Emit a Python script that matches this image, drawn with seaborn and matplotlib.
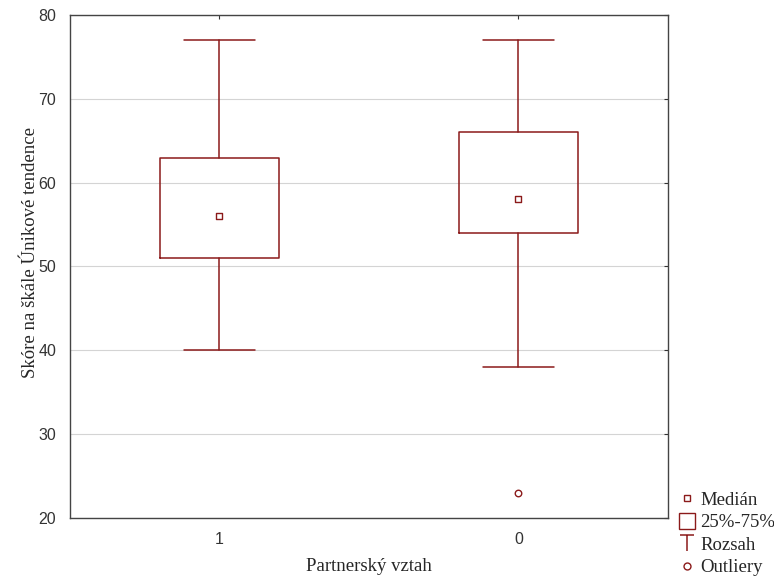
import matplotlib
matplotlib.use("Agg")
import matplotlib.pyplot as plt
from matplotlib.lines import Line2D
from matplotlib.path import Path
import pandas as pd
import seaborn as sns

# Box statistics
groups = ["1", "0"]
medians = [56, 58]
q1 = [51, 54]
q3 = [63, 66]
whisk_lo = [40, 38]
whisk_hi = [77, 77]
outlier_group = ["0"]
outlier_values = [23]

RED = "#8b1a1a"

sns.set_style("white")
plt.rcParams["font.family"] = ["Liberation Sans", "DejaVu Sans"]

fig = plt.figure(figsize=(7.74, 5.79), dpi=100)
ax = fig.add_axes([0.0904, 0.1054, 0.7726, 0.8687])

stats = []
for i, g in enumerate(groups):
    stats.append({"label": g, "med": medians[i], "q1": q1[i], "q3": q3[i],
                  "whislo": whisk_lo[i], "whishi": whisk_hi[i], "fliers": []})

ax.bxp(stats, positions=range(len(groups)), widths=0.4, showfliers=False,
       boxprops=dict(color=RED, linewidth=1.1),
       whiskerprops=dict(color=RED, linewidth=1.1),
       capprops=dict(color=RED, linewidth=1.1),
       medianprops=dict(linestyle="none"),
       capwidths=0.24)

med_df = pd.DataFrame({"grp": groups, "val": medians})
sns.scatterplot(data=med_df, x="grp", y="val", marker="s", s=22,
                facecolor="white", edgecolor=RED, linewidth=1.0, ax=ax, zorder=5)
out_df = pd.DataFrame({"grp": outlier_group, "val": outlier_values})
out_df["pos"] = out_df["grp"].map({g: i for i, g in enumerate(groups)})
sns.scatterplot(data=out_df, x="pos", y="val", marker="o", s=22,
                facecolor="white", edgecolor=RED, linewidth=1.0, ax=ax, zorder=5)

ax.set_xlim(-0.5, 1.5)
ax.set_ylim(20, 80)
ax.set_xticks(range(len(groups)))
ax.set_xticklabels(groups)
ax.set_yticks(range(20, 81, 10))
ax.yaxis.grid(True, color="#d4d4d4", linewidth=0.8)
ax.set_axisbelow(True)
ax.tick_params(direction="in", length=3, labelsize=11.5, colors="#333333",
               top=True, right=True, pad=10)
for sp in ax.spines.values():
    sp.set_color("#444444")
    sp.set_linewidth(1.0)

ax.set_xlabel("Partnerský vztah", family="Liberation Serif", fontsize=13.5,
              labelpad=8)
ax.set_ylabel("Skóre na škále Únikové tendence", family="Liberation Serif",
              fontsize=13.5, labelpad=4)
ax.yaxis.set_label_coords(-0.052, 0.528)

t_marker = Path([(-0.8, 1), (0.8, 1), (0, 1), (0, -1)],
                [Path.MOVETO, Path.LINETO, Path.MOVETO, Path.LINETO])
handles = [
    Line2D([], [], linestyle="none", marker="s", markersize=5,
           markerfacecolor="white", markeredgecolor=RED),
    Line2D([], [], linestyle="none", marker="s", markersize=12,
           markerfacecolor="white", markeredgecolor=RED),
    Line2D([], [], linestyle="none", marker=t_marker, markersize=12,
           markeredgecolor=RED, markeredgewidth=1.1),
    Line2D([], [], linestyle="none", marker="o", markersize=5,
           markerfacecolor="white", markeredgecolor=RED),
]
labels = ["Medián", "25%-75%", "Rozsah", "Outliery"]
fig.legend(handles, labels, loc="lower left", bbox_to_anchor=(0.868, -0.008),
           frameon=False, prop={"family": "Liberation Serif", "size": 13.5},
           handlelength=0.8, handletextpad=0.3, labelspacing=0.28,
           borderaxespad=0.2, borderpad=0.2)

fig.savefig("out.png", dpi=100)
